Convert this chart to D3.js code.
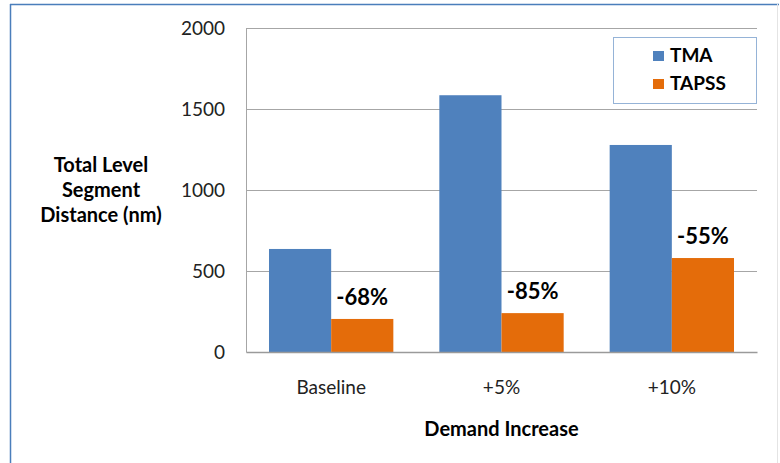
<!DOCTYPE html>
<html>
<head>
<meta charset="utf-8">
<style>
body { margin: 0; background: #fff; }
svg { font-family: Lato, "Open Sans", sans-serif; }
.grid line { stroke: #a6a6a6; }
</style>
</head>
<body>
<svg width="780" height="463"></svg>
<script src="https://d3js.org/d3.v7.min.js"></script>
<script>

// data
var categories = ["Baseline", "+5%", "+10%"];
var seriesNames = ["TMA", "TAPSS"];
var tmaValues = [636, 1585, 1278];
var tapssValues = [204, 240, 580];
var changeLabels = ["-68%", "-85%", "-55%"];
var yTicks = [0, 500, 1000, 1500, 2000];

var svg = d3.select("svg"),
    margin = {top: 28, right: 23, bottom: 111, left: 246},
    width = +svg.attr("width") - margin.left - margin.right,
    height = +svg.attr("height") - margin.top - margin.bottom;

// outer frame
svg.append("line").attr("x1", 10.5).attr("x2", 10.5).attr("y1", 4).attr("y2", 463)
    .attr("stroke", "#4a7ebb").attr("stroke-width", 1.5);
svg.append("line").attr("x1", 10).attr("x2", 779).attr("y1", 4.5).attr("y2", 4.5)
    .attr("stroke", "#4a7ebb").attr("stroke-width", 1.5);
svg.append("line").attr("x1", 777.5).attr("x2", 777.5).attr("y1", 4).attr("y2", 463)
    .attr("stroke", "#e4e4e4").attr("stroke-width", 1);

var g = svg.append("g").attr("transform", "translate(" + margin.left + "," + margin.top + ")");

var x0 = d3.scaleBand()
    .domain(categories)
    .range([0, width])
    .paddingInner(0.27)
    .paddingOuter(0.135);

var x1 = d3.scaleBand()
    .domain(seriesNames)
    .range([0, x0.bandwidth()]);

var y = d3.scaleLinear()
    .domain([0, 2000])
    .range([height, 0]);

var z = d3.scaleOrdinal()
    .domain(seriesNames)
    .range(["#4f81bd", "#e46c0a"]);

var data = categories.map(function(c, i) {
  return {cat: c, TMA: tmaValues[i], TAPSS: tapssValues[i], label: changeLabels[i]};
});

// gridlines
g.append("g")
    .attr("class", "grid")
  .selectAll("line")
  .data(yTicks.slice(1))
  .enter().append("line")
    .attr("x1", 0)
    .attr("x2", width)
    .attr("y1", function(d) { return Math.round(y(d)) + 0.5; })
    .attr("y2", function(d) { return Math.round(y(d)) + 0.5; });

// bars
g.append("g")
  .selectAll("g")
  .data(data)
  .enter().append("g")
    .attr("transform", function(d) { return "translate(" + x0(d.cat) + ",0)"; })
  .selectAll("rect")
  .data(function(d) { return seriesNames.map(function(key) { return {key: key, value: d[key]}; }); })
  .enter().append("rect")
    .attr("x", function(d) { return x1(d.key); })
    .attr("y", function(d) { return y(d.value); })
    .attr("width", x1.bandwidth())
    .attr("height", function(d) { return height - y(d.value); })
    .attr("fill", function(d) { return z(d.key); });

// percent labels over the TAPSS bars
g.append("g")
  .selectAll("text")
  .data(data)
  .enter().append("text")
    .attr("x", function(d) { return x0(d.cat) + x1("TAPSS") + x1.bandwidth() / 2; })
    .attr("y", function(d) { return y(d.TAPSS) - 14; })
    .attr("text-anchor", "middle")
    .attr("font-size", 22)
    .attr("font-weight", "bold")
    .attr("fill", "#000")
    .text(function(d) { return d.label; });

// y axis
var yAxis = g.append("g")
    .call(d3.axisLeft(y).tickValues(yTicks).tickFormat(d3.format("d")).tickSize(0).tickPadding(21));
yAxis.attr("font-family", null);
yAxis.select(".domain").attr("stroke", "#a6a6a6");
yAxis.selectAll("text").attr("font-size", 19).attr("fill", "#222");

// x axis
var xAxis = g.append("g")
    .attr("transform", "translate(0," + height + ")")
    .call(d3.axisBottom(x0).tickSize(0).tickPadding(29));
xAxis.attr("font-family", null);
xAxis.select(".domain").attr("stroke", "#9a9a9a").attr("stroke-width", 1.5);
xAxis.selectAll("text").attr("font-size", 19).attr("fill", "#222");

// axis titles
var yTitle = svg.append("text")
    .attr("text-anchor", "middle")
    .attr("font-size", 20)
    .attr("font-weight", "bold");
["Total Level", "Segment", "Distance (nm)"].forEach(function(t, i) {
  yTitle.append("tspan").attr("x", 101).attr("y", 172 + i * 25).text(t);
});

svg.append("text")
    .attr("x", margin.left + width / 2)
    .attr("y", 436)
    .attr("text-anchor", "middle")
    .attr("font-size", 20)
    .attr("font-weight", "bold")
    .text("Demand Increase");

// legend
var legend = svg.append("g").attr("transform", "translate(613,37)");
legend.append("rect")
    .attr("x", 0.5).attr("y", 0.5)
    .attr("width", 143).attr("height", 66)
    .attr("fill", "#fff")
    .attr("stroke", "#95b3d7");

var item = legend.selectAll("g")
  .data(seriesNames)
  .enter().append("g")
    .attr("transform", function(d, i) { return "translate(40," + (14 + i * 28) + ")"; });

item.append("rect")
    .attr("width", 11)
    .attr("height", 10)
    .attr("fill", z);

item.append("text")
    .attr("x", 17)
    .attr("y", 11)
    .attr("font-size", 19)
    .attr("font-weight", "bold")
    .text(function(d) { return d; });

</script>
</body>
</html>
